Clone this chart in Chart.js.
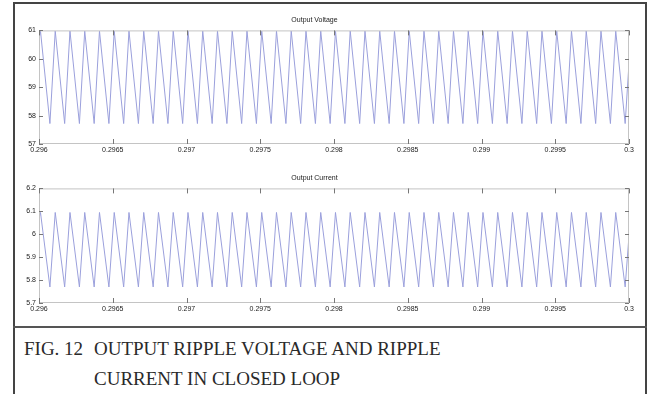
<!DOCTYPE html>
<html>
<head>
<meta charset="utf-8">
<script src="https://cdn.jsdelivr.net/npm/chart.js@4.4.1/dist/chart.umd.min.js"></script>
<style>
  body { margin: 0; background: #fff; width: 653px; height: 394px; overflow: hidden; position: relative; }
  #frame { position: absolute; left: 13px; top: 2px; width: 630px; height: 400px;
           border-left: 2px solid #444; border-top: 2px solid #444; border-right: 2px solid #444; }
  #sep { position: absolute; left: 13px; top: 326px; width: 634px; height: 2px; background: #555; }
  canvas { position: absolute; left: 0; }
  #c1 { top: 0; }
  #c2 { top: 158px; }
  .cap { position: absolute; font-family: 'Liberation Serif', 'Times New Roman', serif;
         font-size: 19px; line-height: 31px; color: #2a2a2a; white-space: pre; }
</style>
</head>
<body>
<div id="frame"></div>
<div id="sep"></div>
<canvas id="c1" width="653" height="165"></canvas>
<canvas id="c2" width="653" height="166"></canvas>
<div class="cap" style="left:24px; top:333px;">FIG. 12</div>
<div class="cap" style="left:94px; top:333px;">OUTPUT RIPPLE VOLTAGE AND RIPPLE</div>
<div class="cap" style="left:94px; top:363px;">CURRENT IN CLOSED LOOP</div>
<script>
(function() {

    // vertex times of the ripple (s): start, then peak / trough pairs, then end
    var times = [
        0.296,
        0.29601, 0.296074, 0.29611, 0.296174, 0.29621, 0.296274, 0.29631, 0.296374, 0.29641, 0.296474,
        0.29651, 0.296574, 0.29661, 0.296674, 0.29671, 0.296774, 0.29681, 0.296874, 0.29691, 0.296974,
        0.29701, 0.297074, 0.29711, 0.297174, 0.29721, 0.297274, 0.29731, 0.297374, 0.29741, 0.297474,
        0.29751, 0.297574, 0.29761, 0.297674, 0.29771, 0.297774, 0.29781, 0.297874, 0.29791, 0.297974,
        0.29801, 0.298074, 0.29811, 0.298174, 0.29821, 0.298274, 0.29831, 0.298374, 0.29841, 0.298474,
        0.29851, 0.298574, 0.29861, 0.298674, 0.29871, 0.298774, 0.29881, 0.298874, 0.29891, 0.298974,
        0.29901, 0.299074, 0.29911, 0.299174, 0.29921, 0.299274, 0.29931, 0.299374, 0.29941, 0.299474,
        0.29951, 0.299574, 0.29961, 0.299674, 0.29971, 0.299774, 0.29981, 0.299874, 0.29991, 0.299974,
        0.3
    ];

    var voltage = [
        60.7,
        60.98, 57.72, 60.98, 57.72, 60.98, 57.72, 60.98, 57.72, 60.98, 57.72,
        60.98, 57.72, 60.98, 57.72, 60.98, 57.72, 60.98, 57.72, 60.98, 57.72,
        60.98, 57.72, 60.98, 57.72, 60.98, 57.72, 60.98, 57.72, 60.98, 57.72,
        60.98, 57.72, 60.98, 57.72, 60.98, 57.72, 60.98, 57.72, 60.98, 57.72,
        60.98, 57.72, 60.98, 57.72, 60.98, 57.72, 60.98, 57.72, 60.98, 57.72,
        60.98, 57.72, 60.98, 57.72, 60.98, 57.72, 60.98, 57.72, 60.98, 57.72,
        60.98, 57.72, 60.98, 57.72, 60.98, 57.72, 60.98, 57.72, 60.98, 57.72,
        60.98, 57.72, 60.98, 57.72, 60.98, 57.72, 60.98, 57.72, 60.98, 57.72,
        59.85
    ];

    var current = [
        6.07,
        6.095, 5.77, 6.095, 5.77, 6.095, 5.77, 6.095, 5.77, 6.095, 5.77,
        6.095, 5.77, 6.095, 5.77, 6.095, 5.77, 6.095, 5.77, 6.095, 5.77,
        6.095, 5.77, 6.095, 5.77, 6.095, 5.77, 6.095, 5.77, 6.095, 5.77,
        6.095, 5.77, 6.095, 5.77, 6.095, 5.77, 6.095, 5.77, 6.095, 5.77,
        6.095, 5.77, 6.095, 5.77, 6.095, 5.77, 6.095, 5.77, 6.095, 5.77,
        6.095, 5.77, 6.095, 5.77, 6.095, 5.77, 6.095, 5.77, 6.095, 5.77,
        6.095, 5.77, 6.095, 5.77, 6.095, 5.77, 6.095, 5.77, 6.095, 5.77,
        6.095, 5.77, 6.095, 5.77, 6.095, 5.77, 6.095, 5.77, 6.095, 5.77,
        5.995
    ];

    var xTicks = [0.296, 0.2965, 0.297, 0.2975, 0.298, 0.2985, 0.299, 0.2995, 0.3];
    var voltTicks = [57, 58, 59, 60, 61];
    var currTicks = [5.7, 5.8, 5.9, 6, 6.1, 6.2];

    var tickFont = { family: "'Liberation Sans', Arial, sans-serif", size: 7 };

    function points(xs, ys) {
        var out = [];
        for (var i = 0; i < xs.length; i++) {
            out.push({ x: xs[i], y: ys[i] });
        }
        return out;
    }

    // box round the plot and small inward tick marks on all four sides
    var boxTicks = {
        id: 'boxTicks',
        afterDraw: function(chart) {
            var ctx = chart.ctx, a = chart.chartArea;
            var xs = chart.scales.x, ys = chart.scales.y;
            ctx.save();
            ctx.strokeStyle = '#c4c4c4';
            ctx.lineWidth = 1;
            ctx.strokeRect(a.left + 0.5, a.top + 0.5, a.right - a.left - 1, a.bottom - a.top - 1);
            ctx.strokeStyle = '#777';
            ctx.beginPath();
            xs.ticks.forEach(function(t) {
                var px = Math.round(xs.getPixelForValue(t.value)) + 0.5;
                ctx.moveTo(px, a.bottom); ctx.lineTo(px, a.bottom - 5);
                ctx.moveTo(px, a.top); ctx.lineTo(px, a.top + 5);
            });
            ys.ticks.forEach(function(t) {
                var py = Math.round(ys.getPixelForValue(t.value)) + 0.5;
                ctx.moveTo(a.left, py); ctx.lineTo(a.left + 4, py);
                ctx.moveTo(a.right, py); ctx.lineTo(a.right - 4, py);
            });
            ctx.stroke();
            ctx.restore();
        }
    };

    function makeChart(id, title, values, yTicks) {
        var ctx = document.getElementById(id).getContext('2d');
        return new Chart(ctx, {
            type: 'line',
            data: {
                datasets: [{
                    data: points(times, values),
                    borderColor: '#9ba0dc',
                    borderWidth: 1,
                    pointRadius: 0,
                    tension: 0,
                    fill: false
                }]
            },
            options: {
                responsive: false,
                animation: false,
                devicePixelRatio: 1,
                layout: { padding: { left: 0, right: 24, top: 0, bottom: 0 } },
                plugins: {
                    legend: { display: false },
                    tooltip: { enabled: false },
                    title: {
                        display: true,
                        text: title,
                        color: '#222',
                        font: { family: tickFont.family, size: 7, weight: 'normal' },
                        padding: { top: 16, bottom: 6 }
                    }
                },
                scales: {
                    x: {
                        type: 'linear',
                        min: xTicks[0],
                        max: xTicks[xTicks.length - 1],
                        afterBuildTicks: function(s) {
                            s.ticks = xTicks.map(function(v) { return { value: v }; });
                        },
                        afterFit: function(s) { s.height = 21; },
                        grid: { display: false, drawTicks: false },
                        border: { display: false },
                        ticks: {
                            autoSkip: false,
                            maxRotation: 0,
                            padding: 2,
                            color: '#222',
                            font: tickFont,
                            callback: function(v) { return String(Number(v.toFixed(4))); }
                        }
                    },
                    y: {
                        min: yTicks[0],
                        max: yTicks[yTicks.length - 1],
                        afterBuildTicks: function(s) {
                            s.ticks = yTicks.map(function(v) { return { value: v }; });
                        },
                        afterFit: function(s) { s.width = 39; },
                        grid: { display: false, drawTicks: false },
                        border: { display: false },
                        ticks: {
                            padding: 3,
                            color: '#222',
                            font: tickFont,
                            callback: function(v) { return String(Number(v.toFixed(2))); }
                        }
                    }
                }
            },
            plugins: [boxTicks]
        });
    }

    makeChart('c1', 'Output Voltage', voltage, voltTicks);
    makeChart('c2', 'Output Current', current, currTicks);

})();
</script>
</body>
</html>
